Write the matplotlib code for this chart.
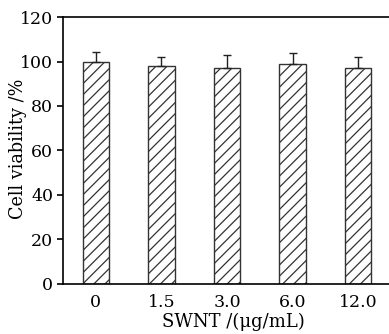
import matplotlib
matplotlib.use("Agg")
import matplotlib.pyplot as plt
import numpy as np

categories = ["0", "1.5", "3.0", "6.0", "12.0"]
viability = [100.0, 98.0, 96.9, 98.7, 96.9]
err_up = [4.3, 3.9, 6.0, 5.0, 5.3]

plt.rcParams['font.family'] = ['DejaVu Serif']
plt.rcParams['hatch.linewidth'] = 0.9
plt.rcParams['hatch.color'] = '#222222'

fig = plt.figure(figsize=(3.89, 3.34), dpi=100)
ax = fig.add_axes([0.162, 0.150, 0.843, 0.799])

x = np.arange(len(categories))
ax.bar(x, viability, width=0.4, color='white', edgecolor='#333333',
       hatch='///', linewidth=1.0, zorder=2)
ax.errorbar(x, viability, yerr=[np.zeros(len(x)), err_up], fmt='none',
            ecolor='#222222', elinewidth=1.0, capsize=3, capthick=1.0, zorder=3)

ax.set_xlim(-0.5, 4.5)
ax.set_ylim(0, 120)
ax.set_yticks([0, 20, 40, 60, 80, 100, 120])
ax.set_xticks(x)
ax.set_xticklabels(categories)
ax.tick_params(axis='x', length=0, labelsize=12.5, pad=7)
ax.tick_params(axis='y', length=4, width=1.2, labelsize=12.5, direction='out', pad=3)
for s in ['left', 'bottom', 'top']:
    ax.spines[s].set_linewidth(1.2)
ax.spines['right'].set_visible(False)

ax.set_ylabel("Cell viability /%", fontsize=12.7, va='center')
ax.yaxis.set_label_coords(-0.137, 0.506)
ax.set_xlabel("SWNT /(μg/mL)", fontsize=13, va='center')
ax.xaxis.set_label_coords(0.52, -0.142)

fig.savefig("out.png", dpi=100)
